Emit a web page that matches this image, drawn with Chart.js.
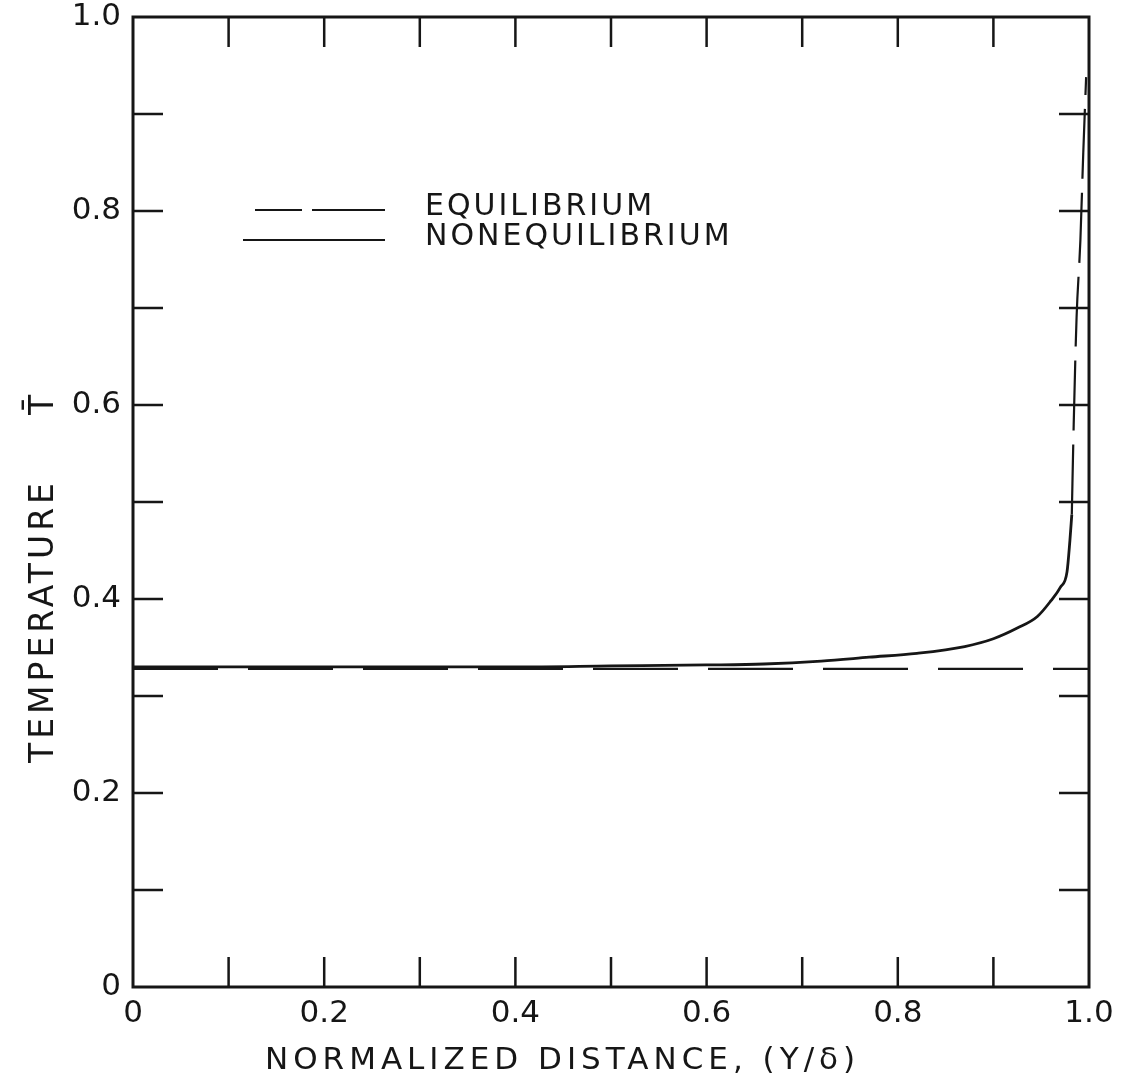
<!DOCTYPE html>
<html><head><meta charset="utf-8">
<script src="https://cdn.jsdelivr.net/npm/chart.js@4/dist/chart.umd.min.js"></script>
<style>html,body{margin:0;padding:0;background:#fff}#wrap{width:1129px;height:1090px;position:relative}</style>
</head><body><div id="wrap"><canvas id="c"></canvas></div>
<script>
// ---- data ----
const xTickLabels = ['0', '0.2', '0.4', '0.6', '0.8', '1.0'];
const yTickLabels = ['0', '0.2', '0.4', '0.6', '0.8', '1.0'];
const innerTickValues = [0.1, 0.2, 0.3, 0.4, 0.5, 0.6, 0.7, 0.8, 0.9];

const eqX = [0, 1.0];
const eqY = [0.328, 0.328];

const nonEqX = [0, 0.2, 0.4, 0.5, 0.6, 0.66, 0.72, 0.77, 0.82, 0.87, 0.90, 0.925, 0.946, 0.96, 0.97, 0.977, 0.980, 0.982];
const nonEqY = [0.330, 0.330, 0.330, 0.331, 0.332, 0.333, 0.336, 0.340, 0.344, 0.351, 0.359, 0.370, 0.382, 0.398, 0.412, 0.428, 0.460, 0.487];

const nonEqExtX = [0.982, 0.984, 0.987, 0.991, 0.994, 0.997];
const nonEqExtY = [0.487, 0.58, 0.69, 0.77, 0.86, 0.938];

const legendLabels = ['EQUILIBRIUM', 'NONEQUILIBRIUM'];
const xTitle = 'NORMALIZED DISTANCE, (Y/\u03B4)';
const yTitle = 'TEMPERATURE';
const yTitleSymbol = 'T\u0304';

const pts = (xs, ys) => xs.map((x, i) => ({x: x, y: ys[i]}));
const INK = '#161616';
const FONT = '"DejaVu Sans", sans-serif';

const framePlugin = {
  id: 'frame',
  afterDraw(chart) {
    const {ctx, chartArea: a, scales} = chart;
    const xs = scales.x, ys = scales.y;
    ctx.save();
    ctx.strokeStyle = INK;
    ctx.lineCap = 'butt';
    // box
    ctx.lineWidth = 3;
    ctx.strokeRect(a.left, a.top, a.right - a.left, a.bottom - a.top);
    // inner ticks
    ctx.lineWidth = 2.5;
    const L = 30;
    innerTickValues.forEach(v => {
      const px = xs.getPixelForValue(v);
      const py = ys.getPixelForValue(v);
      ctx.beginPath();
      ctx.moveTo(px, a.bottom); ctx.lineTo(px, a.bottom - L);
      ctx.moveTo(px, a.top); ctx.lineTo(px, a.top + L);
      ctx.moveTo(a.left, py); ctx.lineTo(a.left + L, py);
      ctx.moveTo(a.right, py); ctx.lineTo(a.right - L, py);
      ctx.stroke();
    });
    // legend
    const lx = a.left + 122, ly1 = ys.getPixelForValue(0.8) - 1, ly2 = ly1 + 30;
    ctx.lineWidth = 2.2;
    ctx.beginPath();
    ctx.setLineDash([47, 10, 73, 10]);
    ctx.moveTo(lx, ly1); ctx.lineTo(lx + 130, ly1);
    ctx.stroke();
    ctx.setLineDash([]);
    ctx.beginPath();
    ctx.moveTo(lx - 12, ly2); ctx.lineTo(lx + 130, ly2);
    ctx.stroke();
    ctx.fillStyle = INK;
    ctx.font = '30px ' + FONT;
    ctx.textBaseline = 'middle';
    ctx.textAlign = 'left';
    ctx.letterSpacing = '3px';
    ctx.fillText(legendLabels[0], lx + 170, ly1 - 3);
    ctx.fillText(legendLabels[1], lx + 170, ly2 - 3);
    // x title
    ctx.font = '31px ' + FONT;
    ctx.letterSpacing = '5px';
    ctx.textBaseline = 'alphabetic';
    ctx.fillText(xTitle, a.left + 132, a.bottom + 82);
    // y title
    ctx.save();
    ctx.translate(a.left - 80, a.bottom - 224);
    ctx.rotate(-Math.PI / 2);
    ctx.letterSpacing = '4px';
    ctx.font = '33px ' + FONT;
    ctx.fillText(yTitle, 0, 0);
    ctx.restore();
    ctx.save();
    ctx.translate(a.left - 80, a.bottom - 572);
    ctx.rotate(-Math.PI / 2);
    ctx.font = '33px ' + FONT;
    ctx.fillText(yTitleSymbol, 0, 0);
    ctx.restore();
    ctx.restore();
  }
};

const lineDs = (label, data, dash, w) => ({
  label, data, showLine: true, pointRadius: 0, borderColor: INK,
  borderWidth: w, borderDash: dash, fill: false, cubicInterpolationMode: 'monotone'
});

new Chart(document.getElementById('c'), {
  type: 'scatter',
  data: {
    datasets: [
      lineDs(legendLabels[0], pts(eqX, eqY), [85, 30], 2.2),
      lineDs(legendLabels[1], pts(nonEqX, nonEqY), [], 2.8),
      lineDs(legendLabels[1] + ' (extension)', pts(nonEqExtX, nonEqExtY), [70, 14], 2.2)
    ]
  },
  options: {
    responsive: true,
    maintainAspectRatio: false,
    animation: false,
    layout: {padding: {left: 0, top: 17, right: 40, bottom: 0}},
    plugins: {legend: {display: false}, tooltip: {enabled: false}},
    scales: {
      x: {
        type: 'linear', min: 0, max: 1,
        afterBuildTicks: s => { s.ticks = xTickLabels.map(t => ({value: parseFloat(t)})); },
        afterFit: s => { s.height = 103; s.paddingLeft = 0; s.paddingRight = 0; },
        grid: {display: false, drawTicks: false},
        border: {display: false},
        ticks: {
          callback: (v, i) => xTickLabels[i],
          color: INK, padding: 8,
          font: {family: FONT, size: 31},
          maxRotation: 0
        }
      },
      y: {
        type: 'linear', min: 0, max: 1,
        afterBuildTicks: s => { s.ticks = yTickLabels.map(t => ({value: parseFloat(t)})); },
        afterFit: s => { s.width = 133; s.paddingTop = 0; s.paddingBottom = 0; },
        grid: {display: false, drawTicks: false},
        border: {display: false},
        ticks: {
          callback: (v, i) => yTickLabels[i],
          color: INK, padding: 12,
          font: {family: FONT, size: 31}
        }
      }
    }
  },
  plugins: [framePlugin]
});
</script>
</body></html>
